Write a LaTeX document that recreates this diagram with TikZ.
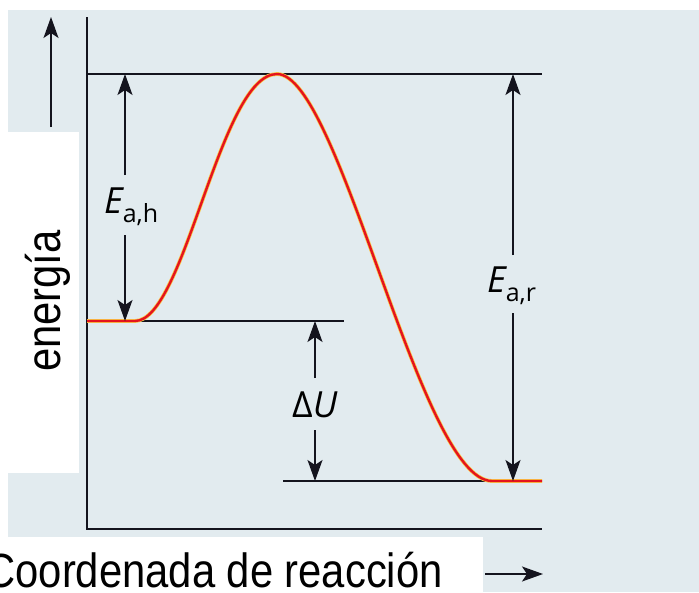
\documentclass[tikz,border=0pt]{standalone}
\usepackage{fontspec}
\setmainfont{Liberation Sans}
\newfontfamily\narrowfont{Liberation Sans}[FakeStretch=0.87]
\newfontfamily\labfont{Open Sans}
\usetikzlibrary{arrows.meta,positioning}
\definecolor{paper}{RGB}{226,235,239}
\definecolor{ink}{RGB}{20,20,30}
\definecolor{curveedge}{RGB}{250,200,70}
\definecolor{curvered}{RGB}{228,20,30}

% subscript in the label font
\newcommand{\lowsub}[1]{\raisebox{-9pt}{\fontsize{25}{28}\selectfont #1}}

\begin{document}
\begin{tikzpicture}[x=1pt,y=-1pt,
    axis/.style={ink, line width=2pt},
    level/.style={ink, line width=1.8pt},
    dimarrow/.style={ink, line width=1.6pt, -{Stealth[length=21pt,width=15pt,inset=5pt]}},
    bigtext/.style={font=\fontsize{48}{56}\selectfont\narrowfont, inner sep=0pt},
    lab/.style={font=\fontsize{36}{42}\selectfont\labfont, inner sep=0pt}]
  \useasboundingbox (0,0) rectangle (699,592);
  \clip (0,0) rectangle (699,592);

  % page and white patches
  \fill[paper] (8,10) rectangle (699,592);
  \fill[white] (0,132) rectangle (79,473);
  \fill[white] (0,537) rectangle (483,592);

  % Levels
  \coordinate (o) at (87,529);
  \coordinate (ytop) at (87,17);
  \coordinate (xend) at (542,529);
  \coordinate (tsL) at (87,74);
  \coordinate (tsR) at (542,74);
  \coordinate (reL) at (87,321);
  \coordinate (reR) at (344,321);
  \coordinate (prL) at (283,481);
  \coordinate (prR) at (542,481);

  \draw[axis] (ytop) -- (o) -- (xend);
  \draw[level] (tsL) -- (tsR);
  \draw[level] (reL) -- (reR);
  \draw[level] (prL) -- (prR);

  % Curve
  \foreach \col/\wd in {curveedge/3.8pt, curvered/2.4pt}
    \draw[\col, line width=\wd]
      (87,321) -- (135,321) .. controls (185,321) and (220,74) .. (277,74)
      .. controls (340,74) and (420,481) .. (492,481) -- (542,481);

  % Labels
  \node[lab, anchor=base west] (Eah) at (104,213)
    {\itshape E\upshape\lowsub{a,h}};
  \node[lab, anchor=base west] (Ear) at (487,292)
    {\itshape E\upshape\lowsub{a,r}};
  \node[lab, anchor=base west] (dU) at (292,417)
    {Δ\itshape U};

  % Dimensions
  \coordinate (hT) at (125,175);
  \coordinate (hB) at (125,235);
  \draw[dimarrow] (hT) -- (tsL -| hT);
  \draw[dimarrow] (hB) -- (reL -| hB);

  \coordinate (rT) at (513,255);
  \coordinate (rB) at (513,313);
  \draw[dimarrow] (rT) -- (tsL -| rT);
  \draw[dimarrow] (rB) -- (prL -| rB);

  \coordinate (uT) at (315,378);
  \coordinate (uB) at (315,430);
  \draw[dimarrow] (uT) -- (reL -| uT);
  \draw[dimarrow] (uB) -- (prL -| uB);

  % Axis titles
  \coordinate (eTail) at (51,127);
  \coordinate (eTip) at (51,17);
  \draw[dimarrow] (eTail) -- (eTip);
  \coordinate (cTail) at (485,574);
  \coordinate (cTip) at (543,574);
  \draw[dimarrow] (cTail) -- (cTip);

  \node[bigtext, rotate=90, anchor=base] (ener) at (60,301) {energía};
  \node[bigtext, anchor=base east] (coord) at (443,587) {Coordenada de reacción};
\end{tikzpicture}
\end{document}
